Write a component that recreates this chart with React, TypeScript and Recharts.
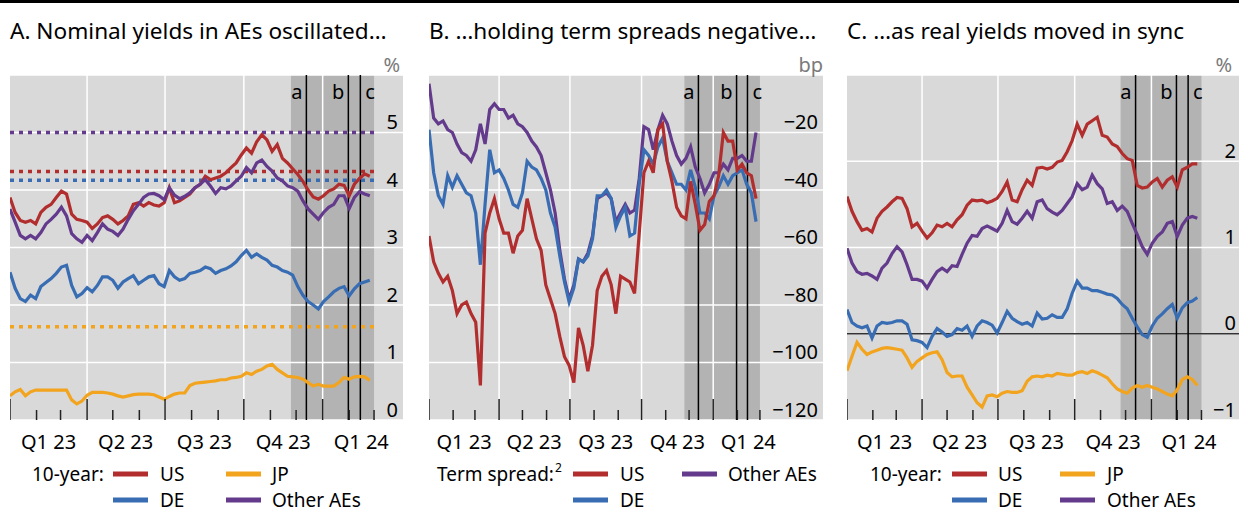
import React from 'react';
import { LineChart, Line, XAxis, YAxis, CartesianGrid, ReferenceLine, ReferenceArea } from 'recharts';

// ---- sampling: one value every 6 days from 1 Jan 2023 (day 0) ----
const STEP_DAYS = 6;

// Panel A: 10-year nominal yields (%)
const A_US = [
  3.87, 3.61, 3.47, 3.44, 3.47, 3.41, 3.61, 3.70, 3.75, 3.87,
  3.98, 3.93, 3.58, 3.49, 3.47, 3.44, 3.33, 3.41, 3.52, 3.55,
  3.49, 3.41, 3.47, 3.55, 3.75, 3.78, 3.72, 3.78, 3.74, 3.72,
  3.78, 4.04, 3.78, 3.81, 3.87, 3.93, 4.04, 4.10, 4.24, 4.18,
  4.21, 4.24, 4.30, 4.39, 4.47, 4.61, 4.73, 4.64, 4.84, 4.96,
  4.87, 4.67, 4.79, 4.55, 4.47, 4.37, 4.27, 4.15, 4.00, 3.88,
  3.84, 3.90, 3.98, 4.02, 4.10, 4.08, 3.90, 4.10, 4.20, 4.28,
  4.24,
];
const A_DE = [
  2.57, 2.29, 2.11, 2.06, 2.17, 2.11, 2.32, 2.39, 2.46, 2.55,
  2.66, 2.69, 2.34, 2.14, 2.20, 2.30, 2.23, 2.34, 2.49, 2.49,
  2.43, 2.29, 2.40, 2.46, 2.51, 2.37, 2.43, 2.49, 2.51, 2.37,
  2.32, 2.60, 2.49, 2.43, 2.46, 2.55, 2.57, 2.60, 2.66, 2.63,
  2.55, 2.60, 2.63, 2.68, 2.75, 2.86, 2.95, 2.83, 2.89, 2.83,
  2.78, 2.69, 2.66, 2.60, 2.57, 2.52, 2.32, 2.17, 2.06, 2.00,
  1.93, 2.06, 2.14, 2.23, 2.29, 2.32, 2.16, 2.28, 2.37, 2.40,
  2.43,
];
const A_JP = [
  0.42, 0.49, 0.53, 0.42, 0.49, 0.52, 0.52, 0.52, 0.52, 0.52,
  0.52, 0.52, 0.35, 0.28, 0.33, 0.43, 0.48, 0.48, 0.48, 0.47,
  0.45, 0.42, 0.40, 0.42, 0.44, 0.45, 0.45, 0.45, 0.44, 0.40,
  0.36, 0.41, 0.45, 0.47, 0.47, 0.60, 0.64, 0.65, 0.66, 0.67,
  0.68, 0.70, 0.70, 0.73, 0.74, 0.76, 0.82, 0.79, 0.85, 0.88,
  0.94, 0.97, 0.88, 0.82, 0.76, 0.75, 0.74, 0.71, 0.65, 0.59,
  0.62, 0.59, 0.59, 0.59, 0.65, 0.74, 0.71, 0.75, 0.76, 0.75,
  0.69,
];
const A_OTH = [
  3.67, 3.44, 3.21, 3.15, 3.21, 3.15, 3.26, 3.41, 3.49, 3.58,
  3.70, 3.55, 3.24, 3.15, 3.09, 3.21, 3.12, 3.26, 3.41, 3.32,
  3.28, 3.21, 3.32, 3.49, 3.64, 3.75, 3.87, 3.93, 3.94, 3.90,
  3.83, 4.04, 3.91, 3.85, 3.89, 3.95, 4.04, 4.10, 4.18, 4.07,
  3.94, 4.04, 4.02, 4.07, 4.16, 4.24, 4.39, 4.30, 4.47, 4.52,
  4.41, 4.33, 4.21, 4.16, 4.07, 4.04, 3.98, 3.81, 3.67, 3.58,
  3.49, 3.61, 3.70, 3.75, 3.90, 3.90, 3.68, 3.87, 3.97, 3.93,
  3.90,
];
// dotted reference levels in panel A (%)
const A_REF_OTH = 5.0;
const A_REF_US = 4.32;
const A_REF_DE = 4.17;
const A_REF_JP = 1.62;

// Panel B: term spreads (bp)
const B_US = [
  -56, -65, -69, -72, -70, -75, -83, -80, -79, -83,
  -86, -108, -55, -48, -43, -50, -55, -55, -62, -56,
  -54, -43, -50, -57, -61, -73, -78, -83, -91, -98,
  -101, -107, -88, -94, -103, -94, -75, -70, -68, -73,
  -83, -70, -71, -72, -76, -55, -34, -30, -34, -19,
  -17, -30, -37, -46, -49, -50, -37, -45, -54, -52,
  -44, -42, -35, -20, -23, -23, -33, -31, -34, -35,
  -43,
];
const B_DE = [
  -19, -34, -42, -45, -35, -39, -35, -38, -41, -42,
  -48, -66, -45, -26, -34, -33, -36, -40, -45, -46,
  -41, -30, -32, -33, -36, -40, -48, -53, -63, -72,
  -79, -74, -64, -65, -63, -57, -42, -42, -40, -43,
  -53, -49, -46, -56, -55, -38, -26, -28, -31, -25,
  -22, -30, -34, -38, -38, -40, -33, -39, -48, -48,
  -50, -42, -39, -35, -38, -35, -34, -33, -38, -41,
  -51,
];
const B_OTH = [
  -3, -15, -17, -16, -19, -20, -24, -27, -28, -30,
  -26, -17, -24, -12, -10, -12, -12, -15, -14, -17,
  -18, -20, -23, -25, -28, -34, -40, -48, -61, -71,
  -78, -73, -64, -65, -62, -56, -43, -42, -41, -43,
  -51, -48, -45, -48, -47, -36, -18, -19, -26, -19,
  -14, -17, -23, -28, -31, -29, -25, -32, -36, -41,
  -38, -34, -34, -31, -33, -29, -29, -28, -30, -30,
  -20,
];

// Panel C: 10-year real yields (%)
const C_US = [
  1.59, 1.42, 1.30, 1.20, 1.22, 1.18, 1.34, 1.42, 1.47, 1.53,
  1.58, 1.57, 1.45, 1.24, 1.28, 1.19, 1.11, 1.17, 1.26, 1.24,
  1.28, 1.24, 1.32, 1.38, 1.49, 1.55, 1.54, 1.55, 1.52, 1.54,
  1.57, 1.65, 1.76, 1.55, 1.53, 1.67, 1.78, 1.72, 1.92, 1.93,
  1.91, 1.93, 1.99, 2.01, 2.11, 2.24, 2.43, 2.30, 2.43, 2.47,
  2.51, 2.30, 2.28, 2.20, 2.17, 2.09, 2.03, 2.01, 1.72, 1.69,
  1.70, 1.76, 1.80, 1.70, 1.78, 1.82, 1.70, 1.90, 1.93, 1.97,
  1.97,
];
const C_DE = [
  0.28, 0.13, 0.09, 0.07, 0.09, -0.05, 0.09, 0.13, 0.12, 0.13,
  0.15, 0.15, 0.11, -0.07, -0.08, -0.10, -0.16, -0.03, 0.06, 0.02,
  -0.03, -0.01, 0.06, 0.04, 0.09, -0.03, 0.09, 0.15, 0.13, 0.10,
  0.01, 0.13, 0.26, 0.18, 0.14, 0.11, 0.13, 0.09, 0.24, 0.17,
  0.18, 0.22, 0.19, 0.19, 0.29, 0.47, 0.61, 0.53, 0.53, 0.50,
  0.50, 0.48, 0.46, 0.45, 0.41, 0.34, 0.29, 0.18, 0.08, -0.01,
  -0.04, 0.09, 0.18, 0.23, 0.29, 0.34, 0.18, 0.30, 0.36, 0.38,
  0.42,
];
const C_JP = [
  -0.43, -0.26, -0.10, -0.18, -0.24, -0.21, -0.19, -0.17, -0.16, -0.17,
  -0.18, -0.19, -0.28, -0.39, -0.32, -0.28, -0.24, -0.22, -0.21, -0.30,
  -0.45, -0.50, -0.49, -0.49, -0.62, -0.71, -0.80, -0.85, -0.72, -0.71,
  -0.73, -0.69, -0.67, -0.68, -0.68, -0.66, -0.55, -0.50, -0.49, -0.50,
  -0.48, -0.49, -0.46, -0.47, -0.48, -0.48, -0.45, -0.44, -0.46, -0.43,
  -0.45, -0.48, -0.51, -0.58, -0.64, -0.67, -0.69, -0.63, -0.60, -0.62,
  -0.60, -0.62, -0.64, -0.67, -0.70, -0.72, -0.65, -0.53, -0.50, -0.53,
  -0.60,
];
const C_OTH = [
  0.99, 0.82, 0.72, 0.69, 0.70, 0.67, 0.63, 0.76, 0.82, 0.93,
  1.01, 0.95, 0.80, 0.63, 0.63, 0.61, 0.53, 0.63, 0.72, 0.76,
  0.72, 0.79, 0.78, 0.92, 1.05, 1.14, 1.13, 1.22, 1.25, 1.22,
  1.19, 1.28, 1.43, 1.30, 1.27, 1.34, 1.42, 1.34, 1.53, 1.55,
  1.45, 1.41, 1.38, 1.43, 1.51, 1.59, 1.74, 1.67, 1.70, 1.84,
  1.74, 1.68, 1.51, 1.53, 1.43, 1.48, 1.42, 1.28, 1.15, 1.01,
  0.92, 1.05, 1.13, 1.18, 1.28, 1.30, 1.13, 1.26, 1.34, 1.36,
  1.34,
];

// ---- axis / event definitions (days since 1 Jan 2023) ----
const MONTH_TICKS = [0, 31, 59, 90, 120, 151, 181, 212, 243, 273, 304, 334, 365, 396, 425];
const QUARTER_STARTS = [0, 90, 181, 273, 365];
const QUARTER_MIDS = [45, 135, 227, 319, 410];
const QUARTER_LABELS = ['Q1 23', 'Q2 23', 'Q3 23', 'Q4 23', 'Q1 24'];
const X_END = 425;
const BAND_START = 328;
const EVENT_DAYS = [346, 395, 409];
const EVENT_LABELS = ['a', 'b', 'c'];
const EVENT_SIDES = ['left', 'left', 'right'];

const A_TICKS = [0, 1, 2, 3, 4, 5, 6];
const B_TICKS = [-120, -100, -80, -60, -40, -20, 0];
const C_TICKS = [-1, 0, 1, 2, 3];

// ---- styles ----
const FONT = '"Noto Sans", "Open Sans", sans-serif';
const BG = '#d9d9d9';
const BAND = '#b3b3b3';
const C_RED = '#b22e2e';
const C_BLUE = '#386db3';
const C_ORANGE = '#f2a41f';
const C_PURPLE = '#633a8c';
const CHART_TOP = 45;
const M_TOP = 30;
const PLOT_H = 345;
const X_AXIS_H = 40;
const CHART_H = M_TOP + PLOT_H + X_AXIS_H;

type SeriesDef = { key: string; color: string; values: number[] };

function rowsFrom(series: SeriesDef[]) {
  const n = series[0].values.length;
  const out: any[] = [];
  for (let i = 0; i < n; i++) {
    const r: any = { d: i * STEP_DAYS };
    series.forEach((s) => {
      r[s.key] = s.values[i];
    });
    out.push(r);
  }
  return out;
}

function fmt(v: number) {
  return v < 0 ? '\u2212' + Math.abs(v) : String(v);
}

function XTick(props: any) {
  const { x, y, payload } = props;
  const v = payload.value;
  const qi = QUARTER_MIDS.indexOf(v);
  if (qi >= 0) {
    return (
      <text x={x} y={y + 21} textAnchor="middle" dominantBaseline="central" fontSize={20} fontFamily={FONT} fill="#000">
        {QUARTER_LABELS[qi]}
      </text>
    );
  }
  const long = QUARTER_STARTS.indexOf(v) >= 0;
  return <line x1={x} x2={x} y1={y} y2={y - (long ? 21 : 10)} stroke="#222" strokeWidth={1.5} />;
}

type PanelProps = {
  left: number;
  width: number;
  xMax: number;
  yTicks: number[];
  unit: string;
  numOff: number;
  unitOff: number;
  series: SeriesDef[];
  dotted?: { y: number; color: string }[];
  zeroLine?: boolean;
};

function Panel({ left, width, xMax, yTicks, unit, numOff, unitOff, series, dotted = [], zeroLine = false }: PanelProps) {
  const rows = rowsFrom(series);
  const yMin = yTicks[0];
  const yMax = yTicks[yTicks.length - 1];
  const gridLabel = (v: number) => (lp: any) => {
    const vb = lp.viewBox || {};
    const isTop = v === yMax;
    return (
      <text
        x={vb.x + vb.width - (isTop ? unitOff : numOff)}
        y={vb.y - 11}
        textAnchor="end"
        dominantBaseline="central"
        fontSize={20}
        fontFamily={FONT}
        fill={isTop ? '#7a7a7a' : '#000'}
      >
        {isTop ? unit : fmt(v)}
      </text>
    );
  };
  return (
    <div style={{ position: 'absolute', left, top: CHART_TOP }}>
      <LineChart width={width} height={CHART_H} data={rows} margin={{ top: M_TOP, right: 0, bottom: 0, left: 0 }}>
        <CartesianGrid horizontal={false} vertical={false} fill={BG} stroke="none" />
        <XAxis
          dataKey="d"
          type="number"
          domain={[0, xMax]}
          ticks={[...MONTH_TICKS, ...QUARTER_MIDS]}
          interval={0}
          height={X_AXIS_H}
          tickLine={false}
          axisLine={false}
          tickSize={0}
          tickMargin={0}
          tick={<XTick />}
          allowDataOverflow
        />
        <YAxis type="number" orientation="right" domain={[yMin, yMax]} ticks={yTicks} hide allowDataOverflow />
        <ReferenceArea x1={BAND_START} x2={X_END} y1={yMin} y2={yMax} fill={BAND} fillOpacity={1} stroke="none" />
        {yTicks.map((v) => (
          <ReferenceLine key={'h' + v} y={v} stroke="#fff" strokeWidth={1.5} label={gridLabel(v)} />
        ))}
        {QUARTER_STARTS.slice(1).map((d) => (
          <ReferenceLine key={'v' + d} x={d} stroke="#fff" strokeWidth={1.5} />
        ))}
        {zeroLine && <ReferenceLine y={0} stroke="#333" strokeWidth={1.5} />}
        {EVENT_DAYS.map((d, i) => (
          <ReferenceLine
            key={'e' + d}
            x={d}
            stroke="#000"
            strokeWidth={1.5}
            label={(lp: any) => {
              const vb = lp.viewBox || {};
              const isLeft = EVENT_SIDES[i] === 'left';
              return (
                <text
                  x={vb.x + (isLeft ? -4 : 5)}
                  y={vb.y + 16}
                  textAnchor={isLeft ? 'end' : 'start'}
                  dominantBaseline="central"
                  fontSize={20}
                  fontFamily={FONT}
                  fill="#000"
                >
                  {EVENT_LABELS[i]}
                </text>
              );
            }}
          />
        ))}
        {dotted.map((r, i) => (
          <ReferenceLine
            key={'dt' + i}
            segment={[
              { x: 0, y: r.y },
              { x: X_END, y: r.y },
            ]}
            stroke={r.color}
            strokeWidth={3.5}
            strokeDasharray="4 5"
          />
        ))}
        {series.map((s) => (
          <Line
            key={s.key}
            dataKey={s.key}
            stroke={s.color}
            strokeWidth={3.2}
            dot={false}
            activeDot={false}
            isAnimationActive={false}
            type="linear"
          />
        ))}
      </LineChart>
    </div>
  );
}

function LegendSwatch({ x, y, color }: { x: number; y: number; color: string }) {
  return <rect x={x} y={y - 2.5} width={35} height={5} fill={color} />;
}

function T({ x, y, children, size = 19, anchor = 'start' }: any) {
  return (
    <text x={x} y={y} fontSize={size} fontFamily={FONT} fill="#000" dominantBaseline="central" textAnchor={anchor}>
      {children}
    </text>
  );
}

export default function App() {
  const R1 = 474;
  const R2 = 500;
  return (
    <div style={{ position: 'absolute', left: 0, top: 0, width: 1239, height: 513, background: '#fff', overflow: 'hidden' }}>
      <svg width={1239} height={513} style={{ position: 'absolute', left: 0, top: 0 }}>
        <rect x={0} y={0} width={1239} height={3} fill="#000" />
        <T x={10} y={30} size={22.6}>A. Nominal yields in AEs oscillated…</T>
        <T x={429} y={30} size={22.6}>B. …holding term spreads negative…</T>
        <T x={847} y={30} size={22.6}>C. …as real yields moved in sync</T>

        {/* legend A */}
        <T x={32} y={R1}>10-year:</T>
        <LegendSwatch x={113} y={R1} color={C_RED} />
        <T x={160} y={R1}>US</T>
        <LegendSwatch x={226} y={R1} color={C_ORANGE} />
        <T x={272} y={R1}>JP</T>
        <LegendSwatch x={113} y={R2} color={C_BLUE} />
        <T x={160} y={R2}>DE</T>
        <LegendSwatch x={226} y={R2} color={C_PURPLE} />
        <T x={272} y={R2}>Other AEs</T>

        {/* legend B */}
        <T x={437} y={R1}>Term spread:</T>
        <T x={555} y={R1 - 7} size={12}>2</T>
        <LegendSwatch x={573} y={R1} color={C_RED} />
        <T x={620} y={R1}>US</T>
        <LegendSwatch x={682} y={R1} color={C_PURPLE} />
        <T x={728} y={R1}>Other AEs</T>
        <LegendSwatch x={573} y={R2} color={C_BLUE} />
        <T x={620} y={R2}>DE</T>

        {/* legend C */}
        <T x={870} y={R1}>10-year:</T>
        <LegendSwatch x={952} y={R1} color={C_RED} />
        <T x={998} y={R1}>US</T>
        <LegendSwatch x={1060} y={R1} color={C_ORANGE} />
        <T x={1107} y={R1}>JP</T>
        <LegendSwatch x={952} y={R2} color={C_BLUE} />
        <T x={998} y={R2}>DE</T>
        <LegendSwatch x={1060} y={R2} color={C_PURPLE} />
        <T x={1107} y={R2}>Other AEs</T>
      </svg>

      <Panel
        left={10}
        width={393}
        xMax={458.8}
        yTicks={A_TICKS}
        unit="%"
        numOff={5}
        unitOff={3}
        dotted={[
          { y: A_REF_OTH, color: C_PURPLE },
          { y: A_REF_US, color: C_RED },
          { y: A_REF_DE, color: C_BLUE },
          { y: A_REF_JP, color: C_ORANGE },
        ]}
        series={[
          { key: 'JP', color: C_ORANGE, values: A_JP },
          { key: 'DE', color: C_BLUE, values: A_DE },
          { key: 'US', color: C_RED, values: A_US },
          { key: 'OTH', color: C_PURPLE, values: A_OTH },
        ]}
      />
      <Panel
        left={429}
        width={394}
        xMax={506}
        yTicks={B_TICKS}
        unit="bp"
        numOff={5}
        unitOff={0}
        series={[
          { key: 'OTH', color: C_PURPLE, values: B_OTH },
          { key: 'DE', color: C_BLUE, values: B_DE },
          { key: 'US', color: C_RED, values: B_US },
        ]}
      />
      <Panel
        left={847}
        width={392}
        xMax={470}
        yTicks={C_TICKS}
        unit="%"
        numOff={3}
        unitOff={7}
        zeroLine
        series={[
          { key: 'JP', color: C_ORANGE, values: C_JP },
          { key: 'DE', color: C_BLUE, values: C_DE },
          { key: 'OTH', color: C_PURPLE, values: C_OTH },
          { key: 'US', color: C_RED, values: C_US },
        ]}
      />
    </div>
  );
}
